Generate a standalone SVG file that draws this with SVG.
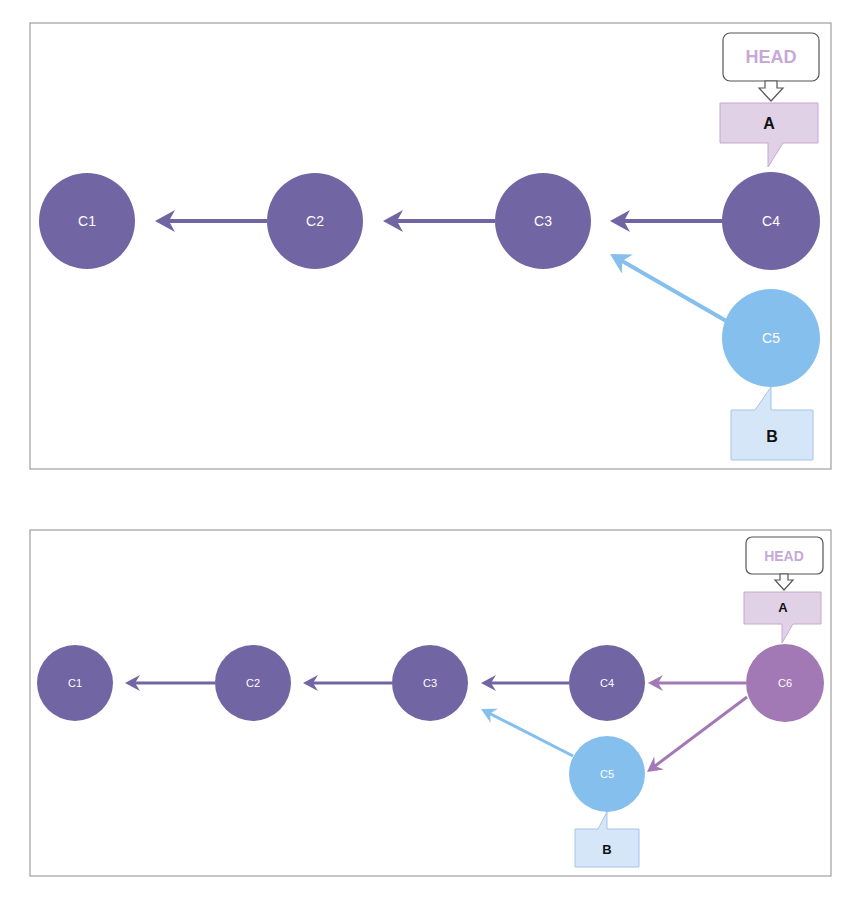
<svg xmlns="http://www.w3.org/2000/svg" width="854" height="902" viewBox="0 0 854 902">
<style>
.frame{fill:#fff;stroke:#8c8c8c;stroke-width:1}
.p{fill:#7265a3}
.b{fill:#85bfee}
.m{fill:#a379b5}
.lbl{font-family:"Liberation Sans",Arial,sans-serif;fill:#fff;text-anchor:middle;dominant-baseline:central}
.cl{font-family:"Liberation Sans",Arial,sans-serif;fill:#111;font-weight:bold;text-anchor:middle;dominant-baseline:central}
.head{font-family:"Liberation Sans",Arial,sans-serif;fill:#c7a8d6;font-weight:bold;text-anchor:middle;dominant-baseline:central}
.ca{fill:#e1d1e7;stroke:#c6a8d0;stroke-width:1}
.cb{fill:#d6e6f9;stroke:#a6c4e8;stroke-width:1}
.hb{fill:#fff;stroke:#555;stroke-width:1.2}
.ha{fill:#fff;stroke:#555;stroke-width:1.2}
</style>
<defs>
<marker id="ap" markerUnits="userSpaceOnUse" markerWidth="22" markerHeight="22" viewBox="0 0 20 22" refX="14" refY="11" orient="auto"><path d="M20,11 L0,0 L6,11 L0,22 z" fill="#7265a3"/></marker>
<marker id="ab" markerUnits="userSpaceOnUse" markerWidth="22" markerHeight="22" viewBox="0 0 20 22" refX="14" refY="11" orient="auto"><path d="M20,11 L0,0 L6,11 L0,22 z" fill="#85bfee"/></marker>
<marker id="sp" markerUnits="userSpaceOnUse" markerWidth="16" markerHeight="16" viewBox="0 0 15 16" refX="10" refY="8" orient="auto"><path d="M15,8 L0,0 L5,8 L0,16 z" fill="#7265a3"/></marker>
<marker id="sb" markerUnits="userSpaceOnUse" markerWidth="16" markerHeight="16" viewBox="0 0 15 16" refX="10" refY="8" orient="auto"><path d="M15,8 L0,0 L5,8 L0,16 z" fill="#85bfee"/></marker>
<marker id="sm" markerUnits="userSpaceOnUse" markerWidth="16" markerHeight="16" viewBox="0 0 15 16" refX="10" refY="8" orient="auto"><path d="M15,8 L0,0 L5,8 L0,16 z" fill="#a379b5"/></marker>
</defs>

<rect class="frame" x="30" y="23" width="801" height="446"/>
<rect class="frame" x="30" y="530" width="801" height="346"/>

<g id="connectors">
<line x1="267" y1="221" x2="161" y2="221" stroke="#7265a3" stroke-width="4" marker-end="url(#ap)"/>
<line x1="495" y1="221" x2="389" y2="221" stroke="#7265a3" stroke-width="4" marker-end="url(#ap)"/>
<line x1="723" y1="221" x2="616" y2="221" stroke="#7265a3" stroke-width="4" marker-end="url(#ap)"/>
<line x1="728" y1="322" x2="615.2" y2="257" stroke="#85bfee" stroke-width="4" marker-end="url(#ab)"/>
<line x1="215" y1="683" x2="130" y2="683" stroke="#7265a3" stroke-width="3" marker-end="url(#sp)"/>
<line x1="392" y1="683" x2="308" y2="683" stroke="#7265a3" stroke-width="3" marker-end="url(#sp)"/>
<line x1="569" y1="683" x2="486" y2="683" stroke="#7265a3" stroke-width="3" marker-end="url(#sp)"/>
<line x1="573" y1="756" x2="485.5" y2="711.3" stroke="#85bfee" stroke-width="3" marker-end="url(#sb)"/>
<line x1="746" y1="683" x2="653" y2="683" stroke="#a379b5" stroke-width="3" marker-end="url(#sm)"/>
<line x1="747" y1="697" x2="651" y2="769" stroke="#a379b5" stroke-width="3" marker-end="url(#sm)"/>
</g>

<g id="top-C1"><circle class="p" cx="87" cy="221" r="48"/><text class="lbl" x="87" y="221" font-size="14">C1</text></g>
<g id="top-C2"><circle class="p" cx="315" cy="221" r="48"/><text class="lbl" x="315" y="221" font-size="14">C2</text></g>
<g id="top-C3"><circle class="p" cx="543" cy="221" r="48"/><text class="lbl" x="543" y="221" font-size="14">C3</text></g>
<g id="top-C4"><circle class="p" cx="771" cy="221" r="49"/><text class="lbl" x="771" y="221" font-size="14">C4</text></g>
<g id="top-C5"><circle class="b" cx="771" cy="338" r="49"/><text class="lbl" x="771" y="338" font-size="14">C5</text></g>

<g id="top-HEAD">
<rect class="hb" x="723" y="33" width="96" height="48" rx="7"/>
<text class="head" x="771" y="57" font-size="18">HEAD</text>
<path class="ha" d="M765,81 L777,81 L777,88 L783,88 L771,101 L759,88 L765,88 z"/>
</g>
<g id="top-A">
<path class="ca" d="M720,103 L818,103 L818,143 L783,143 L768,167 L768,143 L720,143 z"/>
<text class="cl" x="769" y="123" font-size="16">A</text>
</g>
<g id="top-B">
<path class="cb" d="M731,410 L755,410 L771,387 L771,410 L813,410 L813,460 L731,460 z"/>
<text class="cl" x="772" y="436" font-size="16">B</text>
</g>

<g id="bot-C1"><circle class="p" cx="75" cy="683" r="38"/><text class="lbl" x="75" y="683" font-size="11">C1</text></g>
<g id="bot-C2"><circle class="p" cx="253" cy="683" r="38"/><text class="lbl" x="253" y="683" font-size="11">C2</text></g>
<g id="bot-C3"><circle class="p" cx="430" cy="683" r="38"/><text class="lbl" x="430" y="683" font-size="11">C3</text></g>
<g id="bot-C4"><circle class="p" cx="607" cy="683" r="38"/><text class="lbl" x="607" y="683" font-size="11">C4</text></g>
<g id="bot-C6"><circle class="m" cx="785" cy="683" r="39"/><text class="lbl" x="785" y="683" font-size="11">C6</text></g>
<g id="bot-C5"><circle class="b" cx="607" cy="774" r="38"/><text class="lbl" x="607" y="774" font-size="11">C5</text></g>

<g id="bot-HEAD">
<rect class="hb" x="746" y="537" width="77" height="37" rx="6"/>
<text class="head" x="784" y="556" font-size="14">HEAD</text>
<path class="ha" d="M780,574 L788,574 L788,580 L793,580 L784,590 L775,580 L780,580 z"/>
</g>
<g id="bot-A">
<path class="ca" d="M744,592 L821,592 L821,624 L793,624 L782,643 L782,624 L744,624 z"/>
<text class="cl" x="783" y="607" font-size="13">A</text>
</g>
<g id="bot-B">
<path class="cb" d="M575,829 L598,829 L607,812 L607,829 L639,829 L639,867 L575,867 z"/>
<text class="cl" x="607" y="849" font-size="13">B</text>
</g>
</svg>
